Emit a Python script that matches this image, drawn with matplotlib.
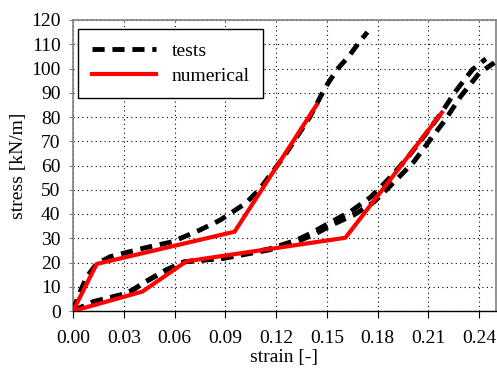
import matplotlib
matplotlib.use("Agg")
import matplotlib.pyplot as plt

# test 1 (first loading)
test1_x = [0.0, 0.003, 0.008, 0.014, 0.022, 0.041, 0.059, 0.075, 0.087, 0.102, 0.110, 0.125, 0.140, 0.149, 0.156, 0.163, 0.169, 0.174]
test1_y = [0.0, 6.0, 14.0, 19.5, 22.4, 25.8, 28.6, 33.4, 37.5, 44.4, 50.0, 64.0, 80.0, 92.0, 99.6, 105.0, 110.7, 115.0]

# test 2a (reloading)
test2a_x = [0.0, 0.012, 0.028, 0.035, 0.042, 0.055, 0.066, 0.089, 0.116, 0.132, 0.142, 0.153, 0.166, 0.178, 0.191, 0.2015, 0.211, 0.220, 0.229, 0.240, 0.249]
test2a_y = [0.0, 3.8, 6.6, 8.5, 11.7, 16.9, 20.3, 21.7, 25.2, 28.6, 31.3, 35.5, 39.6, 45.0, 54.0, 61.6, 70.5, 78.8, 88.4, 98.0, 102.4]

# test 2b (reloading, second specimen)
test2b_x = [0.0, 0.012, 0.028, 0.035, 0.042, 0.055, 0.066, 0.089, 0.116, 0.132, 0.141, 0.152, 0.164, 0.176, 0.188, 0.198, 0.208, 0.217, 0.226, 0.236, 0.244]
test2b_y = [0.0, 3.8, 6.6, 8.5, 11.7, 16.9, 20.3, 21.9, 25.6, 29.2, 32.2, 36.5, 41.0, 47.0, 55.5, 63.5, 72.5, 81.0, 90.5, 99.5, 104.0]

# numerical (first loading)
num1_x = [0.0, 0.014, 0.0955, 0.144]
num1_y = [0.0, 19.4, 32.7, 85.0]

# numerical (reloading)
num2_x = [0.0, 0.041, 0.067, 0.161, 0.218]
num2_y = [0.0, 8.0, 20.5, 30.2, 81.8]

xticks = [0.00, 0.03, 0.06, 0.09, 0.12, 0.15, 0.18, 0.21, 0.24]
yticks = list(range(0, 121, 10))

plt.rcParams['font.family'] = ['Liberation Serif', 'DejaVu Serif']
plt.rcParams['font.size'] = 14

fig = plt.figure(figsize=(4.97, 3.68), dpi=100)
ax = fig.add_axes([73/497, 1 - 311/368, (496 - 73)/497, (311 - 20)/368])

dash = (2.5, 1.6)
ax.plot(test1_x, test1_y, color='black', lw=3.5, linestyle=(0, dash), label='tests', zorder=3)
ax.plot(test2a_x, test2a_y, color='black', lw=3.5, linestyle=(0, dash), zorder=3)
ax.plot(test2b_x, test2b_y, color='black', lw=3.5, linestyle=(0, dash), zorder=3)
ax.plot(num1_x, num1_y, color='red', lw=3, label='numerical', zorder=4)
ax.plot(num2_x, num2_y, color='red', lw=3, zorder=4)

ax.set_xlim(0, 0.25)
ax.set_ylim(0, 120)
ax.set_xticks(xticks)
ax.set_xticklabels([f"{v:.2f}" for v in xticks])
ax.set_yticks(yticks)
ax.grid(True, color='black', linestyle=(0, (1, 3)), lw=0.8)
ax.set_axisbelow(True)

for s in ['left', 'top', 'right']:
    ax.spines[s].set_color('#808080')
    ax.spines[s].set_linewidth(1.2)
ax.spines['bottom'].set_color('black')
ax.spines['bottom'].set_linewidth(1.0)

ax.tick_params(axis='x', direction='out', length=5, pad=9, labelsize=14)
ax.tick_params(axis='y', direction='out', length=3, pad=6, labelsize=14, color='#808080')

ax.set_xlabel('strain [-]', fontsize=14, labelpad=1)
ax.set_ylabel('stress [kN/m]', fontsize=14, labelpad=3)

leg = ax.legend(loc='upper left', bbox_to_anchor=(5/423, 1 - 9/291), borderaxespad=0,
                fancybox=False, framealpha=1, edgecolor='black', handlelength=3.3,
                handletextpad=0.8, borderpad=0.7, labelspacing=0.35, fontsize=14)
leg.get_frame().set_linewidth(1.0)

fig.savefig('out.png', dpi=100)
